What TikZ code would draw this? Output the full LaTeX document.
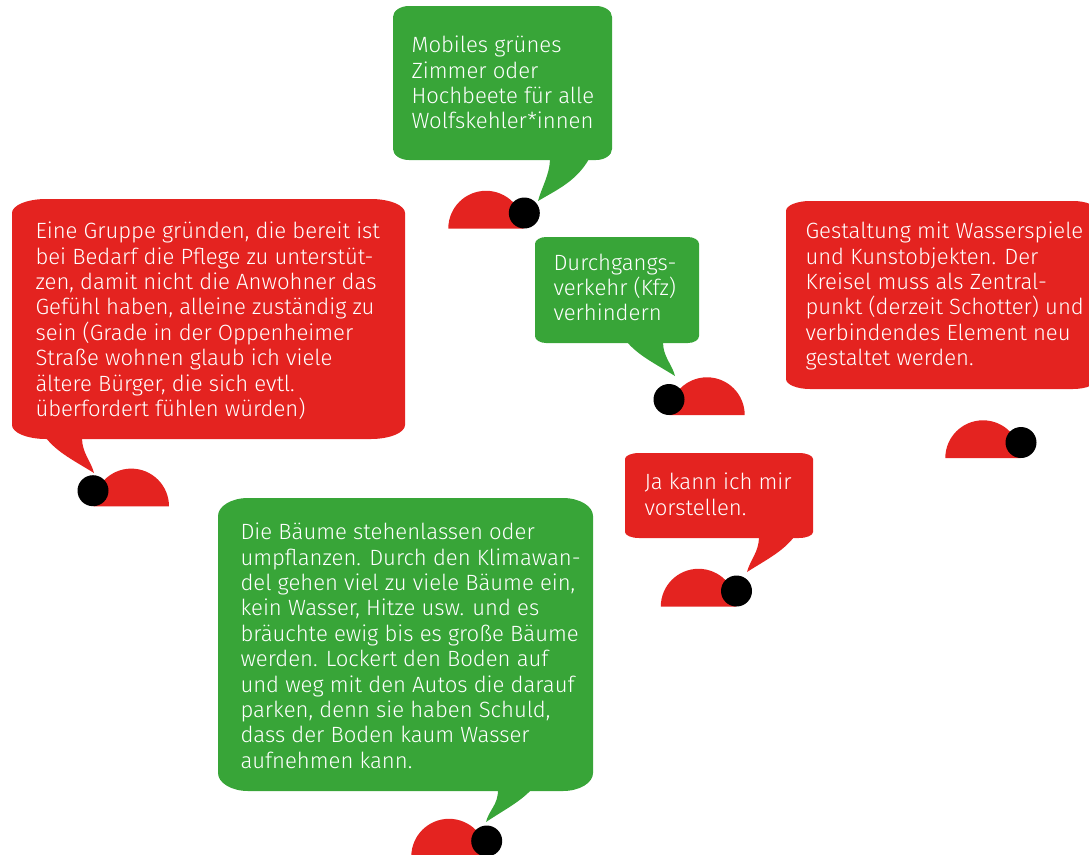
\documentclass[tikz,border=0pt]{standalone}
\usepackage{fontspec}
\setmainfont{Fira Sans Light}
\definecolor{bgreen}{HTML}{38A538}
\definecolor{bred}{HTML}{E42320}
\tikzset{
  x=1pt,y=-1pt,
  says/.style={anchor=north west,inner sep=0pt,outer sep=0pt,align=left,text=white,
    font=\fontsize{22.1}{25.4}\selectfont},
  dot/.style={circle,fill=black,minimum size=31pt,inner sep=0pt,outer sep=0pt},
}
\newcommand{\bubblebox}[7]{%
  \fill[#5] (#1+#6,#2) -- (#3-#6,#2) .. controls (#3-#6*0.45,#2) and (#3,#2+#7*0.45) .. (#3,#2+#7)
    -- (#3,#4-#7) .. controls (#3,#4-#7*0.45) and (#3-#6*0.45,#4) .. (#3-#6,#4)
    -- (#1+#6,#4) .. controls (#1+#6*0.45,#4) and (#1,#4-#7*0.45) .. (#1,#4-#7)
    -- (#1,#2+#7) .. controls (#1,#2+#7*0.45) and (#1+#6*0.45,#2) .. (#1+#6,#2) -- cycle;}
\newcommand{\bubbletail}[6]{%
  \fill[#6] (#1,#2-1) .. controls (#1,#2+14) and (#3+0.25*#1-0.25*#3,#4-12) .. (#3,#4)
    .. controls (#3+0.4*#5-0.4*#3,#4-12) and (#3+0.75*#5-0.75*#3,#4-20) .. (#5,#2-1) -- cycle;}
\newcommand{\halfdisc}[3]{\fill[#3] (#1-37.7,#2) arc[start angle=180,end angle=360,radius=37.7] -- cycle;}
\begin{document}
\begin{tikzpicture}
\useasboundingbox (0,0) rectangle (1089,854);
\clip (0,0) rectangle (1089,854);
\bubblebox{393}{6}{612}{160}{bgreen}{16}{11}
\bubbletail{550}{160}{538}{201}{589}{bgreen}
\halfdisc{486}{228.5}{bred}
\node[dot] (d1) at (524.3,213) {};
\node[says] (t1) at (411.5,36) {Mobiles grünes\\Zimmer oder\\Hochbeete für alle\\Wolfskehler*innen};
\bubblebox{12}{199}{405}{439}{bred}{34}{14}
\bubbletail{82}{439}{94}{473}{46}{bred}
\halfdisc{131.3}{506.3}{bred}
\node[dot] (d2) at (93,490.7) {};
\node[says] (t2) at (35.5,222) {Eine Gruppe gründen, die bereit ist\\bei Bedarf die Pflege zu unterstüt-\\zen, damit nicht die Anwohner das\\Gefühl haben, alleine zuständig zu\\sein (Grade in der Oppenheimer\\Straße wohnen glaub ich viele\\ältere Bürger, die sich evtl.\\überfordert fühlen würden)};
\bubblebox{535}{237}{699}{343}{bgreen}{11}{7}
\bubbletail{663}{343}{675}{376}{627}{bgreen}
\halfdisc{707}{415}{bred}
\node[dot] (d3) at (669,399.5) {};
\node[says] (t3) at (553.5,253.6) {Durchgangs-\\verkehr (Kfz)\\verhindern};
\bubblebox{786}{201}{1097}{389}{bred}{24}{10}
\halfdisc{983}{458}{bred}
\node[dot] (d4) at (1021,442.5) {};
\node[says] (t4) at (805.5,222) {Gestaltung mit Wasserspiele\\und Kunstobjekten. Der\\Kreisel muss als Zentral-\\punkt (derzeit Schotter) und\\verbindendes Element neu\\gestaltet werden.};
\bubblebox{625}{453}{813}{538}{bred}{14}{6}
\bubbletail{759}{538}{747}{572}{794}{bred}
\halfdisc{698.5}{606.5}{bred}
\node[dot] (d5) at (736.5,591) {};
\node[says] (t5) at (644.5,473) {Ja kann ich mir\\vorstellen.};
\bubblebox{218}{498}{593}{791}{bgreen}{30}{18}
\bubbletail{498}{791}{486}{822}{531}{bgreen}
\halfdisc{449}{856.5}{bred}
\node[dot] (d6) at (486.7,841) {};
\node[says] (t6) at (240.5,523) {Die Bäume stehenlassen oder\\umpflanzen. Durch den Klimawan-\\del gehen viel zu viele Bäume ein,\\kein Wasser, Hitze usw. und es\\bräuchte ewig bis es große Bäume\\werden. Lockert den Boden auf\\und weg mit den Autos die darauf\\parken, denn sie haben Schuld,\\dass der Boden kaum Wasser\\aufnehmen kann.};
\end{tikzpicture}
\end{document}
